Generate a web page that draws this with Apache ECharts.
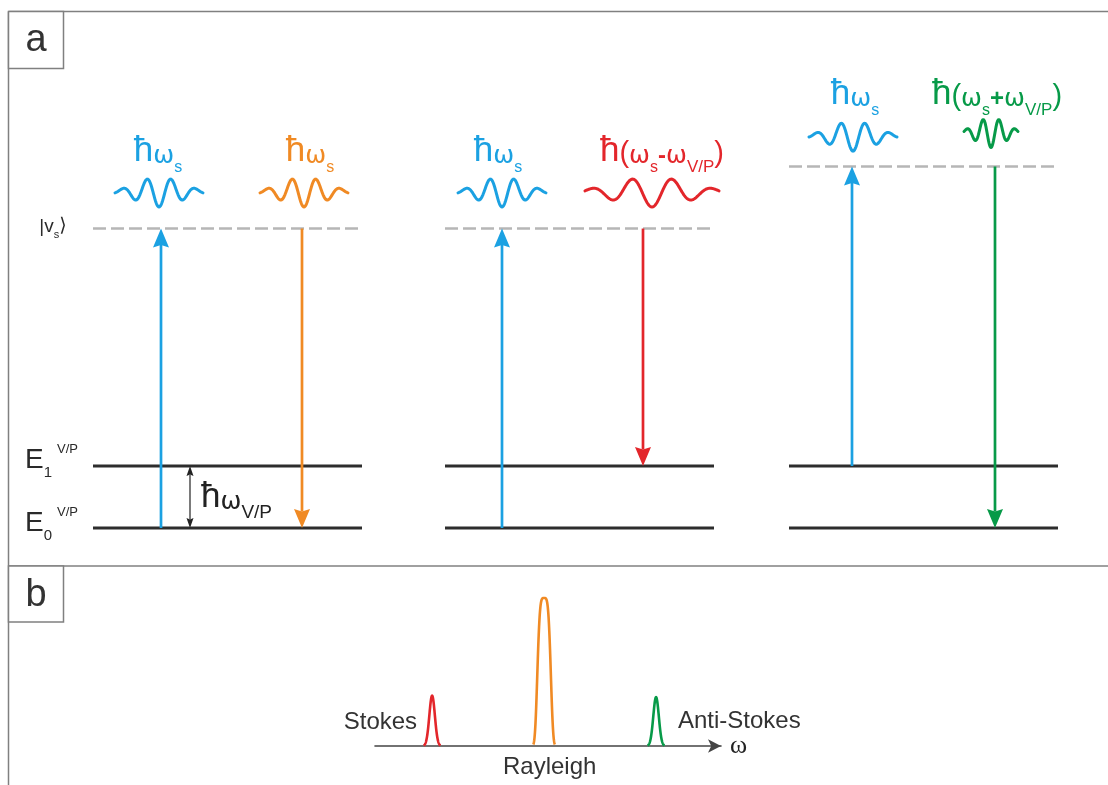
<!DOCTYPE html>
<html><head><meta charset="utf-8">
<script src="https://cdn.jsdelivr.net/npm/echarts@6/dist/echarts.min.js"></script>
<style>html,body{margin:0;padding:0;background:#fff}#c{width:1108px;height:785px}</style>
</head><body><div id="c"></div>
<script>
// ================= DATA =================
// Panel a: energy-level diagram (energy in units of ħω_V/P, E0 = 0)
const processes = ['Rayleigh', 'Stokes', 'Anti-Stokes'];
const levelStartX = [93, 445, 789];
const levelEndX = [362, 714, 1058];
const groundE = [0, 0, 0];          // E0^V/P
const excitedE = [1, 1, 1];         // E1^V/P
const virtualE = [4.83, 4.83, 5.83]; // |v_s>
const pumpX = [161, 502, 852];
const pumpFromE = [0, 0, 1];
const emitX = [302, 643, 995];
const emitToE = [0, 1, 0];
const pumpColor = '#1ba1e2';
const emitColors = ['#f08a24', '#e3262b', '#079a48'];
const gapArrowX = [190];
// photons (wave packets)
const waveCenterX = [159, 304, 502, 652, 853, 991];
const waveBaseE = [5.42, 5.42, 5.42, 5.42, 6.32, 6.38];
const wavePeriod = [24, 24, 24, 40, 24, 16];
const waveHalfSpan = [44, 44, 44, 67, 44, 27];
const waveColors = [pumpColor, '#f08a24', pumpColor, '#e3262b', pumpColor, '#079a48'];
const photonLabels = [
  '{h|ħ}{w|ω}{s|s}',
  '{h|ħ}{w|ω}{s|s}',
  '{h|ħ}{w|ω}{s|s}',
  '{h|ħ}{p|(}{w|ω}{s|s}{m|-}{w|ω}{sv|V/P}{p|)}',
  '{h|ħ}{w|ω}{s|s}',
  '{h|ħ}{p|(}{w|ω}{s|s}{m|+}{w|ω}{sv|V/P}{p|)}'
];
const photonLabelX = [158, 310, 498, 662, 855, 997];
const photonLabelE = [6.02, 6.02, 6.02, 6.02, 6.94, 6.94];
// Panel b: spectrum (frequency shift in units of ω_V/P, intensity relative to Rayleigh)
const peakNames = ['Stokes', 'Rayleigh', 'Anti-Stokes'];
const peakShift = [-1, 0, 1];
const peakIntensity = [0.34, 1, 0.33];
const peakWidth = [0.035, 0.0656, 0.035];
const peakShapeExp = [2, 4, 2];
const peakColors = ['#e3262b', '#f08a24', '#079a48'];
const peakLabelPos = [[-1.134, 0.162, 'left'], [0.05, -0.142, 'inside'], [1.196, 0.169, 'right']];

// ================= CHART =================
const FONT = '"Liberation Sans", Arial, "DejaVu Sans", sans-serif';
const NARROW = '"Liberation Sans Narrow", "Liberation Sans", Arial, sans-serif';
const GREEK = '"DejaVu Sans", "Liberation Sans", sans-serif';
const AMP = 0.242;

function photonRich(color, subSize) {
  return {
    h: {fontSize: 35, color, padding: [0, 0, 7, 0], verticalAlign: 'bottom', fontFamily: FONT},
    w: {fontSize: 25, color, padding: [0, 0, 7, 0], verticalAlign: 'bottom', fontFamily: GREEK},
    m: {fontSize: 24, color, padding: [0, 0, 7, 0], verticalAlign: 'bottom', fontFamily: FONT, fontWeight: 'bold'},
    p: {fontSize: 29, color, padding: [0, 0, 7, 0], verticalAlign: 'bottom', fontFamily: FONT},
    s: {fontSize: 16, color, verticalAlign: 'bottom', fontFamily: FONT},
    sv: {fontSize: subSize || 17, color, verticalAlign: 'bottom', fontFamily: FONT}
  };
}
function levelRich(color) {
  return {
    E: {fontSize: 28, color, padding: [4, 0, 6, 0], verticalAlign: 'bottom', fontFamily: NARROW},
    n: {fontSize: 15, color, verticalAlign: 'bottom', fontFamily: FONT},
    vp: {fontSize: 13, color, verticalAlign: 'top', padding: [0, 0, 0, 5], fontFamily: FONT},
    v: {fontSize: 19, color, padding: [0, 0, 4, 0], verticalAlign: 'bottom', fontFamily: FONT},
    b: {fontSize: 19, color, padding: [0, 0, 4, 0], verticalAlign: 'bottom', fontFamily: GREEK},
    s: {fontSize: 11, color, verticalAlign: 'bottom', fontFamily: FONT}
  };
}

// level segments
const levelData = [];
processes.forEach((p, i) => {
  levelData.push([levelStartX[i], levelEndX[i], groundE[i], 0]);
  levelData.push([levelStartX[i], levelEndX[i], excitedE[i], 0]);
  levelData.push([levelStartX[i], levelEndX[i], virtualE[i], 1]);
});
// transition arrows
const arrowData = [];
processes.forEach((p, i) => {
  arrowData.push({value: [pumpX[i], pumpFromE[i], virtualE[i]], itemStyle: {color: pumpColor}});
  arrowData.push({value: [emitX[i], virtualE[i], emitToE[i]], itemStyle: {color: emitColors[i]}});
});
const waveData = waveCenterX.map((c, i) => ({
  value: [c, waveBaseE[i], wavePeriod[i], waveHalfSpan[i]], itemStyle: {color: waveColors[i]}
}));
const photonLabelData = photonLabelX.map((x, i) => ({
  value: [x, photonLabelE[i]],
  label: {formatter: photonLabels[i], rich: photonRich(waveColors[i])}
}));
const levelLabelData = [
  {value: [25, excitedE[0] + 0.073], label: {formatter: '{E|E}{n|1}{vp|V/P}', position: 'right', distance: 0}},
  {value: [25, groundE[0] + 0.056], label: {formatter: '{E|E}{n|0}{vp|V/P}', position: 'right', distance: 0}},
  {value: [53, virtualE[0]], label: {formatter: '{v||v}{s|s}{b|⟩}', position: 'inside'}},
  {value: [201, 0.43], label: {formatter: '{h|ħ}{w|ω}{sv|V/P}', position: 'right', distance: 0, rich: photonRich('#222', 19)}}
];
const peakData = peakShift.map((f, i) => ({
  value: [f, peakIntensity[i], peakWidth[i], peakShapeExp[i]], itemStyle: {color: peakColors[i]}
}));
const peakLabelData = peakNames.map((n, i) => ({
  value: [peakLabelPos[i][0], peakLabelPos[i][1]],
  label: {formatter: n, position: peakLabelPos[i][2], distance: 0}
}));

function renderLevel(params, api) {
  const p1 = api.coord([api.value(0), api.value(2)]);
  const p2 = api.coord([api.value(1), api.value(2)]);
  const dashed = api.value(3) === 1;
  return {type: 'line', shape: {x1: p1[0], y1: p1[1], x2: p2[0], y2: p2[1]},
    style: {stroke: dashed ? '#b6b6b6' : '#2d2d2d', lineWidth: dashed ? 2.5 : 3, lineDash: dashed ? [13, 5] : null}};
}
function arrowShape(a, b, L, W, notch, color, lw) {
  const dir = b[1] > a[1] ? 1 : -1;
  const baseY = b[1] - dir * L;
  return [
    {type: 'line', shape: {x1: a[0], y1: a[1], x2: b[0], y2: baseY + dir * notch}, style: {stroke: color, lineWidth: lw}},
    {type: 'polygon', shape: {points: [[b[0], b[1]], [b[0] - W / 2, baseY], [b[0], baseY + dir * notch], [b[0] + W / 2, baseY]]},
      style: {fill: color}}
  ];
}
function renderArrow(params, api) {
  const a = api.coord([api.value(0), api.value(1)]);
  const b = api.coord([api.value(0), api.value(2)]);
  return {type: 'group', children: arrowShape(a, b, 19, 16, 2.5, api.visual('color'), 2.7)};
}
function renderGapArrow(params, api) {
  const a = api.coord([api.value(0), api.value(1)]);
  const b = api.coord([api.value(0), api.value(2)]);
  const m = [(a[0] + b[0]) / 2, (a[1] + b[1]) / 2];
  return {type: 'group', children: [].concat(
    arrowShape(m, b, 10, 7, 1.5, '#222', 1.2), arrowShape(m, a, 10, 7, 1.5, '#222', 1.2))};
}
function renderWave(params, api) {
  const c = api.value(0), base = api.value(1), P = api.value(2), H = api.value(3);
  const pts = [];
  for (let dx = -H; dx <= H + 1e-6; dx += 0.5) {
    const env = Math.exp(-Math.pow(dx / (1.25 * P), 2));
    pts.push(api.coord([c + dx, base - AMP * env * Math.cos(2 * Math.PI * dx / P)]));
  }
  return {type: 'polyline', shape: {points: pts},
    style: {stroke: api.visual('color'), lineWidth: 3, fill: null, lineJoin: 'round', lineCap: 'round'}};
}
function renderPeak(params, api) {
  const f = api.value(0), I = api.value(1), s = api.value(2), q = api.value(3);
  const reach = s * Math.pow(Math.log(100), 1 / q);
  const pts = [];
  for (let k = -60; k <= 60; k++) {
    const dx = reach * k / 60;
    pts.push(api.coord([f + dx, I * Math.exp(-Math.pow(Math.abs(dx) / s, q))]));
  }
  return {type: 'polyline', shape: {points: pts},
    style: {stroke: api.visual('color'), lineWidth: 2.6, fill: null, lineJoin: 'round'}};
}

const frameStyle = {stroke: '#808080', lineWidth: 1.5};
const chart = echarts.init(document.getElementById('c'), null, {renderer: 'canvas'});
chart.setOption({
  animation: false,
  backgroundColor: '#fff',
  textStyle: {fontFamily: FONT},
  grid: [
    {left: 0, top: 1, width: 1108, height: 564.2},
    {left: 375, top: 598, width: 346, height: 148}
  ],
  xAxis: [
    {gridIndex: 0, type: 'value', min: 0, max: 1108, show: false},
    {gridIndex: 1, type: 'value', min: -1.51, max: 1.58,
      axisLine: {show: true, onZero: false, symbol: ['none', 'arrow'], symbolSize: [10, 13], lineStyle: {color: '#444', width: 1.6}},
      axisTick: {show: false}, axisLabel: {show: false}, splitLine: {show: false},
      name: 'ω', nameLocation: 'end', nameGap: 9,
      nameTextStyle: {fontFamily: '"Liberation Serif", "DejaVu Serif", serif', fontSize: 26, color: '#222', verticalAlign: 'middle', align: 'left'}}
  ],
  yAxis: [
    {gridIndex: 0, type: 'value', min: -0.6, max: 8.5, show: false},
    {gridIndex: 1, type: 'value', min: 0, max: 1, show: false}
  ],
  graphic: [
    {type: 'line', shape: {x1: 8.5, y1: 11.5, x2: 1108, y2: 11.5}, style: frameStyle},
    {type: 'line', shape: {x1: 8.5, y1: 11.5, x2: 8.5, y2: 785}, style: frameStyle},
    {type: 'line', shape: {x1: 8.5, y1: 566, x2: 1108, y2: 566}, style: frameStyle},
    {type: 'rect', shape: {x: 8.5, y: 11.5, width: 55, height: 57}, style: {fill: '#fff', stroke: '#808080', lineWidth: 1.5}},
    {type: 'rect', shape: {x: 8.5, y: 566, width: 55, height: 56}, style: {fill: '#fff', stroke: '#808080', lineWidth: 1.5}},
    {type: 'text', x: 36, y: 41, style: {text: 'a', fontSize: 38, fontFamily: FONT, fill: '#333', align: 'center', verticalAlign: 'middle'}},
    {type: 'text', x: 36, y: 596, style: {text: 'b', fontSize: 38, fontFamily: FONT, fill: '#333', align: 'center', verticalAlign: 'middle'}}
  ],
  series: [
    {type: 'custom', name: 'levels', xAxisIndex: 0, yAxisIndex: 0, renderItem: renderLevel, data: levelData, silent: true, z: 2},
    {type: 'custom', name: 'transitions', xAxisIndex: 0, yAxisIndex: 0, renderItem: renderArrow, data: arrowData, silent: true, z: 3},
    {type: 'custom', name: 'gap', xAxisIndex: 0, yAxisIndex: 0, renderItem: renderGapArrow, data: gapArrowX.map(x => [x, groundE[0], excitedE[0]]), silent: true, z: 3},
    {type: 'custom', name: 'photons', xAxisIndex: 0, yAxisIndex: 0, renderItem: renderWave, data: waveData, silent: true, z: 3},
    {type: 'scatter', name: 'photonLabels', xAxisIndex: 0, yAxisIndex: 0, symbolSize: 0, clip: false, silent: true,
      itemStyle: {opacity: 1}, label: {show: true, position: 'inside', opacity: 1}, data: photonLabelData, z: 4},
    {type: 'scatter', name: 'levelLabels', xAxisIndex: 0, yAxisIndex: 0, symbolSize: 0, clip: false, silent: true,
      itemStyle: {opacity: 1}, label: {show: true, opacity: 1, color: '#2a2a2a', rich: levelRich('#2a2a2a')}, data: levelLabelData, z: 4},
    {type: 'custom', name: 'spectrum', xAxisIndex: 1, yAxisIndex: 1, renderItem: renderPeak, data: peakData, silent: true, clip: false, z: 3},
    {type: 'scatter', name: 'peakLabels', xAxisIndex: 1, yAxisIndex: 1, symbolSize: 0, clip: false, silent: true,
      itemStyle: {opacity: 1}, label: {show: true, opacity: 1, fontSize: 24, color: '#333', fontFamily: FONT}, data: peakLabelData, z: 4}
  ]
});
</script></body></html>
